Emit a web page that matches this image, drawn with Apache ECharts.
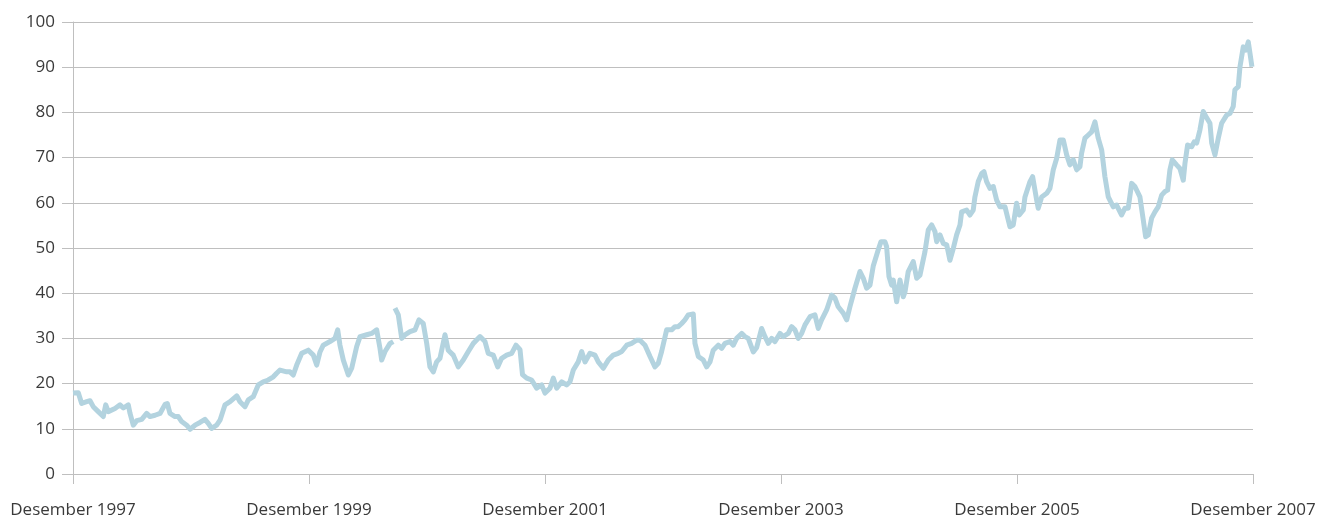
<!DOCTYPE html>
<html>
<head>
<meta charset="utf-8">
<title>Desember 1997 - Desember 2007</title>
<script src="https://cdn.jsdelivr.net/npm/echarts@6/dist/echarts.min.js"></script>
<style>
  html, body { margin: 0; padding: 0; background: #fff; }
  #chart { width: 1336px; height: 520px; }
</style>
</head>
<body>
<div id="chart"></div>
<script>
// months after Desember 1997; null marks the break in the line
const months = [
  0, 0.54, 0.88, 1.39, 1.73, 2.06, 2.57, 3.08, 3.33, 3.59, 4.27, 4.78, 5.12, 5.62, 5.80, 6.13, 6.48, 6.99,
  7.49, 7.83, 8.34, 8.85, 9.36, 9.59, 9.86, 10.37, 10.71, 11.05, 11.56, 11.90, 12.41, 12.91, 13.42, 13.76,
  14.10, 14.61, 14.95, 15.46, 15.97, 16.65, 16.98, 17.49, 17.83, 18.33, 18.84, 19.35, 19.86, 20.37, 20.71,
  21.05, 21.73, 22.07, 22.40, 22.75, 23.26, 23.93, 24.44, 24.78, 25.12, 25.45, 26.13, 26.64, 26.92, 27.15,
  27.49, 28.00, 28.34, 28.85, 29.19, 29.87, 30.37, 30.88, 31.22, 31.39, 31.73, 32.24, 32.57,
  32.66,
  32.74, 33.08, 33.43, 33.76, 34.27, 34.78, 35.18, 35.62, 35.97, 36.30, 36.64, 36.98, 37.32, 37.83, 38.16,
  38.67, 39.18, 39.69, 40.20, 40.71, 41.39, 41.90, 42.23, 42.74, 43.19, 43.59, 44.10, 44.61, 45.05, 45.46,
  45.71, 46.14, 46.64, 47.15, 47.66, 48.00, 48.51, 48.84, 49.19, 49.70, 50.20, 50.54, 50.88, 51.38, 51.73,
  52.07, 52.57, 53.08, 53.42, 53.93, 54.43, 54.94, 55.45, 55.80, 56.31, 56.81, 57.32, 57.66, 58.17, 58.68,
  59.18, 59.52, 59.86, 60.37, 60.88, 61.22, 61.55, 61.90, 62.23, 62.57, 63.08, 63.25, 63.59, 64.10, 64.44,
  64.78, 65.11, 65.62, 65.97, 66.30, 66.81, 67.15, 67.49, 68.00, 68.34, 68.67, 69.18, 69.53, 70.03, 70.37,
  70.71, 71.05, 71.39, 71.89, 72.23, 72.74, 73.08, 73.42, 73.76, 74.10, 74.44, 74.95, 75.45, 75.79, 76.13,
  76.64, 77.15, 77.49, 77.82, 78.33, 78.68, 79.01, 79.52, 80.03, 80.37, 80.71, 81.05, 81.38, 81.89, 82.17,
  82.57, 82.74, 82.98, 83.25, 83.42, 83.76, 84.10, 84.43, 84.61, 84.94, 85.45, 85.80, 86.13, 86.64, 86.98,
  87.32, 87.66, 87.83, 88.17, 88.50, 88.85, 89.18, 89.52, 89.86, 90.20, 90.37, 90.88, 91.22, 91.55, 91.72,
  92.06, 92.41, 92.64, 92.91, 93.25, 93.59, 93.93, 94.27, 94.78, 95.28, 95.62, 95.96, 96.23, 96.64, 96.81,
  97.32, 97.59, 98.00, 98.16, 98.51, 99.02, 99.35, 99.69, 100.03, 100.37, 100.71, 101.05, 101.38, 101.72,
  102.07, 102.40, 102.57, 102.91, 103.25, 103.59, 103.93, 104.26, 104.61, 104.94, 105.28, 105.79, 106.13,
  106.64, 106.98, 107.31, 107.66, 107.99, 108.50, 108.84, 109.08, 109.35, 109.69, 110.03, 110.36, 110.71,
  111.05, 111.32, 111.55, 111.79, 112.23, 112.57, 112.91, 113.08, 113.35, 113.76, 114.02, 114.27, 114.60,
  114.94, 115.29, 115.62, 115.80, 116.13, 116.47, 116.81, 117.32, 117.66, 117.99, 118.16, 118.50, 118.67,
  119.01, 119.28, 119.52, 119.69, 119.79, 119.89
]

const prices = [
  17.9, 18.0, 15.6, 16.0, 16.2, 14.9, 13.8, 12.7, 15.3, 13.8, 14.5, 15.3, 14.6, 15.3, 13.4, 10.8, 11.8, 12.1,
  13.4, 12.7, 13.0, 13.4, 15.4, 15.6, 13.4, 12.7, 12.7, 11.6, 10.8, 9.9, 10.8, 11.4, 12.1, 11.2,
  10.1, 10.8, 11.9, 15.3, 16.0, 17.3, 16.0, 14.9, 16.4, 17.1, 19.7, 20.4, 20.8, 21.5, 22.3,
  23.0, 22.6, 22.6, 21.9, 24.1, 26.7, 27.4, 26.3, 24.1, 27.0, 28.5, 29.3, 30.0, 31.9, 28.5,
  25.2, 21.9, 23.4, 28.2, 30.4, 30.8, 31.1, 31.9, 27.8, 25.2, 27.1, 28.9, 29.3,
  null,
  36.7, 35.2, 30.0, 30.8, 31.5, 31.9, 34.1, 33.3, 28.9, 23.7, 22.6, 24.8, 25.6, 30.8, 27.4,
  26.3, 23.7, 25.2, 27.1, 28.9, 30.4, 29.3, 26.7, 26.3, 23.7, 25.6, 26.3, 26.7, 28.5, 27.5,
  22.0, 21.2, 20.8, 19.0, 19.7, 17.9, 19.0, 21.2, 19.0, 20.4, 19.7, 20.4, 23.0, 24.8, 27.1,
  24.8, 26.7, 26.3, 24.8, 23.4, 25.2, 26.3, 26.7, 27.1, 28.5, 28.9, 29.6, 29.6, 28.5, 26.0,
  23.7, 24.5, 27.1, 31.9, 31.9, 32.6, 32.6, 33.3, 34.1, 35.2, 35.4, 28.9, 26.0, 25.2, 23.7,
  24.8, 27.4, 28.5, 27.8, 28.9, 29.3, 28.5, 30.0, 31.1, 30.4, 30.0, 27.0, 28.0, 32.2, 30.4,
  28.9, 30.0, 29.3, 31.1, 30.4, 31.1, 32.6, 31.9, 30.0, 31.1, 33.0, 34.8, 35.2, 32.2, 34.1,
  36.3, 39.6, 38.9, 37.0, 35.6, 34.1, 37.0, 41.1, 44.8, 43.3, 41.1, 41.8, 46.0, 49.6, 51.4,
  51.4, 50.3, 43.7, 41.8, 42.9, 38.1, 42.9, 39.2, 40.3, 44.8, 47.0, 43.3, 44.0, 49.2, 54.0,
  55.1, 53.6, 51.4, 52.9, 51.0, 50.7, 47.3, 49.9, 52.9, 55.1, 58.0, 58.4, 57.3, 58.4, 61.3,
  64.7, 66.5, 66.9, 64.7, 63.2, 63.6, 60.6, 59.1, 59.1, 54.7, 55.1, 59.9, 57.3, 58.4, 61.3,
  64.7, 65.8, 60.6, 58.8, 61.3, 62.1, 63.2, 67.3, 69.8, 73.9, 73.9, 70.6, 68.4, 69.5,
  67.3, 68.0, 71.0, 74.3, 75.0, 75.7, 77.9, 74.3, 71.7, 65.8, 61.3, 59.1, 59.5,
  57.3, 58.8, 58.8, 64.3, 63.6, 61.3, 56.2, 52.5, 52.9, 56.6, 58.0, 59.1, 61.7,
  62.5, 62.8, 67.3, 69.5, 68.4, 67.6, 65.0, 68.7, 72.8, 72.4, 73.5, 73.2, 76.1,
  80.2, 78.8, 77.6, 73.2, 70.6, 74.3, 77.6, 79.4, 79.8, 81.3, 85.0, 85.7, 90.0,
  94.5, 93.8, 95.6, 95.3, 91.6, 90.1
]

const startYear = 1997
const labelMonth = 'Desember'

const seriesData = months.map((m, i) => prices[i] === null ? [m, '-'] : [m, prices[i]])

const gray = '#bfbfbf'
const labelStyle = {
  color: '#3a3a3a',
  fontSize: 17,
  fontFamily: '"Open Sans", "Noto Sans", sans-serif'
}

const option = {
  animation: false,
  grid: {
    left: 73,
    right: 83,
    top: 22,
    bottom: 46,
    containLabel: false
  },
  xAxis: {
    type: 'value',
    min: 0,
    max: 120,
    interval: 24,
    axisLine: { show: true, lineStyle: { color: gray, width: 1 } },
    axisTick: { show: true, length: 10, lineStyle: { color: gray } },
    splitLine: { show: false },
    axisLabel: Object.assign({
      margin: 28,
      formatter: v => labelMonth + ' ' + (startYear + v / 12)
    }, labelStyle)
  },
  yAxis: {
    type: 'value',
    min: 0,
    max: 100,
    interval: 10,
    axisLine: { show: true, lineStyle: { color: gray, width: 1 } },
    axisTick: { show: true, length: 11, lineStyle: { color: gray } },
    splitLine: { show: true, lineStyle: { color: gray, width: 1 } },
    axisLabel: Object.assign({ margin: 18 }, labelStyle)
  },
  series: [
    {
      type: 'line',
      data: seriesData,
      showSymbol: false,
      connectNulls: false,
      lineStyle: { color: '#b3d3df', width: 5, join: 'round' },
      itemStyle: { color: '#b3d3df' }
    }
  ]
}

const myChart = echarts.init(document.getElementById('chart'))
myChart.setOption(option)
</script>
</body>
</html>
